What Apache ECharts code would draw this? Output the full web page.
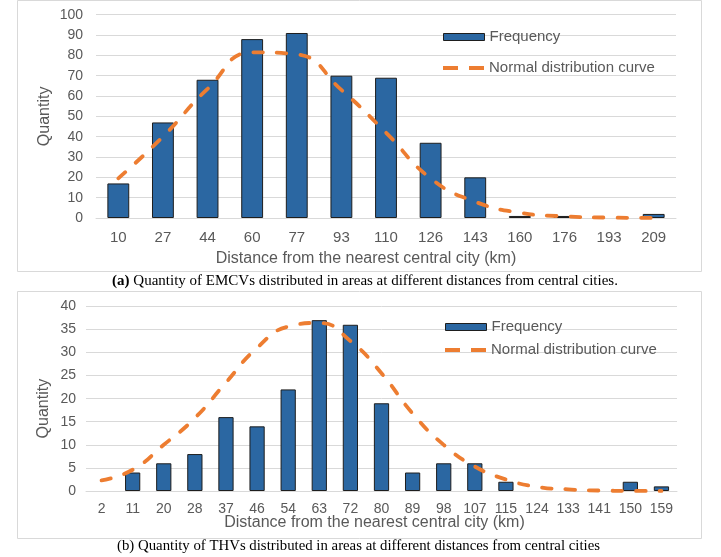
<!DOCTYPE html>
<html><head><meta charset="utf-8">
<script src="https://cdn.jsdelivr.net/npm/echarts@6/dist/echarts.min.js"></script>
<style>html,body{margin:0;padding:0;background:#fff}#c{width:721px;height:557px}</style>
</head><body><div id="c"></div>
<script>
// Chart (a): EMCVs
const catsA = ['10','27','44','60','77','93','110','126','143','160','176','193','209'];
const freqA = [17, 47, 68, 88, 91, 70, 69, 37, 20, 1, 1, 0, 2];
const curveA = [19.5, 40, 63.5, 81.5, 80.5, 63, 42, 19.5, 8, 2.6, 0.8, 0.2, 0.05];
// Chart (b): THVs
const catsB = ['2','11','20','28','37','46','54','63','72','80','89','98','107','115','124','133','141','150','159'];
const freqB = [0, 4, 6, 8, 16, 14, 22, 37, 36, 19, 4, 6, 6, 2, 0, 0, 0, 2, 1];
const curveB = [2.3, 4.6, 10, 15.8, 23.5, 31, 35.6, 36.4, 32.5, 25.5, 16.8, 10, 5.3, 2.5, 0.9, 0.35, 0.1, 0.03, 0.01];
const seriesNames = ['Frequency', 'Normal distribution curve'];
const captionA = 'Quantity of EMCVs distributed in areas at different distances from central cities.';
const captionB = '(b) Quantity of THVs distributed in areas at different distances from central cities';
const xTitle = 'Distance from the nearest central city (km)';
const yTitle = 'Quantity';

const grey = '#595959';
const gridCol = '#d9d9d9';
const barCol = '#2b67a2';
const orange = '#ed7d31';
const sans = 'Liberation Sans, Arial, sans-serif';

const chart = echarts.init(document.getElementById('c'), null, {renderer: 'canvas'});

function xAxis(idx, cats, fs, margin, gap, padR) {
  return {
    type: 'category', gridIndex: idx, data: cats,
    axisLine: {lineStyle: {color: gridCol, width: 1}},
    axisTick: {show: false},
    axisLabel: {color: grey, fontSize: fs, fontFamily: sans, margin: margin, interval: 0},
    name: xTitle, nameLocation: 'middle', nameGap: gap, nameMoveOverlap: false,
    nameTextStyle: {color: grey, fontSize: 16, fontFamily: sans, padding: [0, padR, 0, 0]}
  };
}
function yAxis(idx, max, interval, margin, gap, pad) {
  return {
    type: 'value', gridIndex: idx, min: 0, max: max, interval: interval,
    axisLine: {show: false}, axisTick: {show: false},
    splitLine: {lineStyle: {color: gridCol, width: 1}},
    axisLabel: {color: grey, fontSize: 14, fontFamily: sans, margin: margin},
    name: yTitle, nameLocation: 'middle', nameGap: gap, nameMoveOverlap: false,
    nameTextStyle: {color: grey, fontSize: 16, fontFamily: sans, padding: pad}
  };
}
function barSeries(idx, data) {
  return {
    name: seriesNames[0], type: 'bar', xAxisIndex: idx, yAxisIndex: idx,
    data: data.map(v => v === 0 ? '-' : v),
    barWidth: '49%',
    itemStyle: {color: barCol, borderColor: '#1e1e1e', borderWidth: 1}
  };
}
function lineSeries(idx, data) {
  return {
    name: seriesNames[1], type: 'line', xAxisIndex: idx, yAxisIndex: idx, data: data,
    smooth: 0.5, symbol: 'none', z: 5,
    lineStyle: {color: orange, width: 3.8, type: [9.5, 14], cap: 'round'},
    itemStyle: {color: orange}
  };
}
const textStyleL = {color: grey, fontSize: 15, fontFamily: sans, lineHeight: 16};
function legendBar(left, top) {
  return {
    orient: 'vertical', left: left, top: top, padding: 0, itemWidth: 41, itemHeight: 7,
    data: [{name: seriesNames[0], icon: 'rect', itemStyle: {color: barCol, borderColor: '#1e1e1e', borderWidth: 1}}],
    selectedMode: false, textStyle: textStyleL
  };
}
function legendLine(left, top) {
  return {
    orient: 'vertical', left: left, top: top, padding: 0, itemWidth: 41, itemHeight: 4,
    data: [{name: seriesNames[1], icon: 'path://M0,0h15v4h-15z M26,0h15v4h-15z', itemStyle: {color: orange}}],
    selectedMode: false, textStyle: textStyleL
  };
}

chart.setOption({
  animation: false,
  backgroundColor: '#fff',
  grid: [
    {left: 96, right: 45, top: 14.7, bottom: 339},
    {left: 86, right: 44, top: 306.3, bottom: 66}
  ],
  xAxis: [xAxis(0, catsA, 15, 12, 33, 40), xAxis(1, catsB, 14, 11, 24, 14)],
  yAxis: [yAxis(0, 100, 10, 13, 43, [0, 0, 0, 0]), yAxis(1, 40, 5, 10, 34, [0, 20, 0, 0])],
  legend: [legendBar(443, 29), legendLine(443, 60), legendBar(445, 319), legendLine(445, 342)],
  series: [barSeries(0, freqA), lineSeries(0, curveA), barSeries(1, freqB), lineSeries(1, curveB)],
  graphic: [
    {type: 'rect', shape: {x: 17.5, y: 0.5, width: 684, height: 271}, style: {fill: 'none', stroke: gridCol, lineWidth: 1}, z: -1},
    {type: 'rect', shape: {x: 17.5, y: 291.5, width: 684, height: 247}, style: {fill: 'none', stroke: gridCol, lineWidth: 1}, z: -1},
    {type: 'text', x: 365, y: 281, style: {
      text: '{b|(a)} ' + captionA, align: 'center', verticalAlign: 'middle',
      font: '15px "Liberation Serif", "Times New Roman", serif', fill: '#000',
      rich: {b: {fontWeight: 'bold', fontSize: 15, fontFamily: 'Liberation Serif', fill: '#000'}}
    }},
    {type: 'text', x: 358.5, y: 546, style: {
      text: captionB, align: 'center', verticalAlign: 'middle',
      font: '14.8px "Liberation Serif", "Times New Roman", serif', fill: '#000'
    }}
  ]
});
</script></body></html>
